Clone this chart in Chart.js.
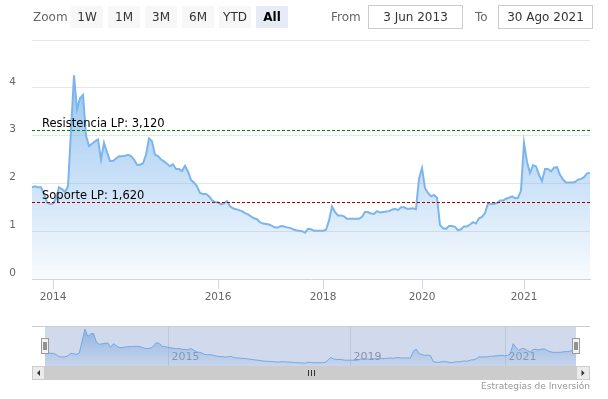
<!DOCTYPE html>
<html>
<head>
<meta charset="utf-8">
<script src="https://cdn.jsdelivr.net/npm/chart.js@4/dist/chart.umd.min.js"></script>
<style>
  html, body { margin:0; padding:0; background:#fff; }
  #wrap { position:relative; width:608px; height:399px; overflow:hidden; font-family:"DejaVu Sans", sans-serif; }
  #main { position:absolute; left:0; top:0; }
  #nav { position:absolute; left:0; top:310px; }
  .lbl { position:absolute; top:9px; font-size:12px; color:#666; line-height:16px; }
  .btn { position:absolute; top:6px; width:32px; height:22px; line-height:22px; text-align:center; background:#f7f7f7; color:#333; font-size:12px; }
  .btn.sel { background:#e6ebf5; color:#000; font-weight:bold; }
  .inp { position:absolute; top:5px; height:22px; line-height:22px; border:1px solid #ccc; text-align:center; font-size:12px; color:#333; box-sizing:content-box; }
  #credit { position:absolute; right:18px; top:381px; font-size:9px; color:#999; }
</style>
</head>
<body>
<div id="wrap">
  <canvas id="main" width="608" height="310"></canvas>
  <canvas id="nav" width="608" height="89"></canvas>
  <div class="lbl" style="left:33px">Zoom</div>
  <div class="btn" style="left:71px">1W</div>
  <div class="btn" style="left:108px">1M</div>
  <div class="btn" style="left:145px">3M</div>
  <div class="btn" style="left:182px">6M</div>
  <div class="btn" style="left:219px">YTD</div>
  <div class="btn sel" style="left:256px">All</div>
  <div class="lbl" style="left:331px">From</div>
  <div class="inp" style="left:368px;width:93px">3 Jun 2013</div>
  <div class="lbl" style="left:475px">To</div>
  <div class="inp" style="left:498px;width:93px">30 Ago 2021</div>
  <div id="credit">Estrategias de Inversión</div>
</div>
<script>
// ---- data (ordinal series, evenly spaced points) ----
const values = [
  1.92,1.94,1.92,1.92,1.78,1.60,1.57,1.58,1.68,1.92,
  1.88,1.82,1.94,3.10,4.26,3.55,3.78,3.85,3.00,2.78,
  2.83,2.88,2.92,2.50,2.85,2.65,2.47,2.47,2.52,2.57,
  2.57,2.58,2.60,2.57,2.50,2.39,2.39,2.42,2.60,2.94,
  2.88,2.60,2.57,2.50,2.46,2.41,2.36,2.40,2.30,2.30,
  2.26,2.37,2.25,2.07,2.02,1.94,1.80,1.78,1.78,1.73,
  1.65,1.61,1.60,1.56,1.58,1.63,1.52,1.48,1.46,1.44,
  1.42,1.38,1.35,1.31,1.27,1.25,1.19,1.16,1.15,1.14,
  1.11,1.08,1.08,1.11,1.10,1.08,1.07,1.04,1.02,1.01,
  1.00,0.97,1.05,1.04,1.01,1.01,1.01,1.01,1.03,1.22,
  1.52,1.40,1.33,1.33,1.31,1.26,1.26,1.26,1.26,1.26,
  1.30,1.40,1.40,1.37,1.36,1.42,1.39,1.40,1.41,1.42,
  1.45,1.47,1.44,1.50,1.50,1.47,1.47,1.48,1.46,2.10,
  2.32,1.90,1.80,1.73,1.76,1.70,1.13,1.06,1.05,1.11,
  1.11,1.09,1.02,1.04,1.10,1.10,1.14,1.19,1.16,1.27,
  1.30,1.38,1.58,1.57,1.57,1.59,1.64,1.64,1.68,1.70,
  1.73,1.69,1.70,1.85,2.85,2.45,2.22,2.38,2.36,2.18,
  2.05,2.30,2.30,2.25,2.33,2.34,2.18,2.08,2.02,2.02,
  2.02,2.03,2.08,2.09,2.13,2.21,2.22
];
const tickIndex  = [7, 62, 97, 130, 164];
const tickLabels = ['2014','2016','2018','2020','2021'];
const navTickIndex  = [43, 107, 161];
const navTickLabels = ['2015','2019','2021'];
const yTicks = [0, 1, 2, 3, 4, 5];
const resistance = 3.12;
const support = 1.62;

const categories = values.map((v, i) => {
  const k = tickIndex.indexOf(i);
  return k >= 0 ? tickLabels[k] : '';
});
const plotLines = [
  { value: resistance, color: '#008000', text: 'Resistencia LP: ' + resistance.toFixed(3).replace('.', ',') },
  { value: support,    color: '#a00000', text: 'Soporte LP: ' + support.toFixed(3).replace('.', ',') }
];

const FONT = '"DejaVu Sans", sans-serif';

function areaGradient(ctx, a0, a1) {
  const chart = ctx.chart;
  const area = chart.chartArea;
  if (!area) return 'rgba(124,181,236,0.4)';
  const g = chart.ctx.createLinearGradient(0, area.top, 0, area.bottom);
  g.addColorStop(0, 'rgba(124,181,236,' + a0 + ')');
  g.addColorStop(1, 'rgba(124,181,236,' + a1 + ')');
  return g;
}

const plotLinesPlugin = {
  id: 'plotLines',
  afterDatasetsDraw(chart) {
    const { ctx, chartArea: a, scales: { y } } = chart;
    plotLines.forEach(pl => {
      const py = Math.round(y.getPixelForValue(pl.value)) + 0.5;
      ctx.save();
      ctx.strokeStyle = pl.color;
      ctx.lineWidth = 1;
      ctx.setLineDash([3, 2]);
      ctx.beginPath();
      ctx.moveTo(a.left, py);
      ctx.lineTo(a.right, py);
      ctx.stroke();
      ctx.setLineDash([]);
      ctx.fillStyle = '#000';
      ctx.font = '11.5px ' + FONT;
      ctx.textBaseline = 'alphabetic';
      ctx.textAlign = 'left';
      ctx.fillText(pl.text, a.left + 10, py - 4);
      ctx.restore();
    });
  }
};

new Chart(document.getElementById('main'), {
  type: 'line',
  data: {
    labels: categories,
    datasets: [{
      data: values,
      borderColor: '#7cb5ec',
      borderWidth: 2,
      pointRadius: 0,
      tension: 0,
      fill: 'origin',
      backgroundColor: ctx => areaGradient(ctx, 0.9, 0.05)
    }]
  },
  options: {
    responsive: false,
    animation: false,
    events: [],
    layout: { padding: { top: 40, right: 18, left: 0, bottom: 0 } },
    plugins: { legend: { display: false }, tooltip: { enabled: false } },
    scales: {
      x: {
        type: 'category',
        offset: false,
        afterFit: s => { s.height = 31; },
        border: { color: '#ccd6eb', width: 1 },
        grid: {
          drawOnChartArea: false,
          drawTicks: true,
          tickLength: 10,
          color: c => (c.tick && c.tick.label) ? '#ccd6eb' : 'rgba(0,0,0,0)'
        },
        ticks: {
          autoSkip: false,
          maxRotation: 0,
          padding: 2,
          color: '#666',
          font: { family: FONT, size: 10.5 },
          callback: (v, i) => categories[i]
        }
      },
      y: {
        min: 0,
        max: 5,
        afterFit: s => { s.width = 32; },
        afterBuildTicks: s => { s.ticks = yTicks.map(v => ({ value: v })); },
        border: { display: false },
        grid: {
          drawTicks: false,
          color: c => (c.tick && c.tick.value === 0) ? 'rgba(0,0,0,0)' : '#e6e6e6'
        },
        ticks: {
          padding: 16,
          labelOffset: -6,
          color: '#666',
          font: { family: FONT, size: 10.5 },
          callback: v => (v === 5 ? '' : String(v))
        }
      }
    }
  },
  plugins: [plotLinesPlugin]
});

// ---- navigator ----
const navPlugin = {
  id: 'navigatorDecor',
  beforeDatasetsDraw(chart) {
    const { ctx, chartArea: a, scales: { x } } = chart;
    ctx.save();
    ctx.strokeStyle = '#e6e6e6';
    ctx.lineWidth = 1;
    ctx.font = '11px ' + FONT;
    ctx.fillStyle = '#999';
    ctx.textBaseline = 'middle';
    ctx.textAlign = 'left';
    navTickIndex.forEach((idx, k) => {
      const px = Math.round(x.getPixelForValue(idx)) + 0.5;
      ctx.beginPath();
      ctx.moveTo(px, a.top);
      ctx.lineTo(px, a.bottom);
      ctx.stroke();
      ctx.fillText(navTickLabels[k], px + 3, a.bottom - 9);
    });
    ctx.restore();
  },
  afterDatasetsDraw(chart) {
    const { ctx, chartArea: a } = chart;
    const outerL = 32, outerR = 590;
    ctx.save();
    // mask over selected range
    ctx.fillStyle = 'rgba(102,133,194,0.3)';
    ctx.fillRect(a.left, a.top, a.right - a.left, a.bottom - a.top);
    // outline
    ctx.strokeStyle = '#cccccc';
    ctx.lineWidth = 1;
    ctx.beginPath();
    ctx.moveTo(outerL, a.top + 0.5);
    ctx.lineTo(outerR, a.top + 0.5);
    ctx.stroke();
    // handles
    const midY = Math.round((a.top + a.bottom) / 2);
    [a.left, a.right].forEach(hx => {
      const x0 = Math.round(hx) - 3.5;
      ctx.fillStyle = '#f2f2f2';
      ctx.strokeStyle = '#999999';
      ctx.fillRect(x0, midY - 8, 7, 15);
      ctx.strokeRect(x0, midY - 8 + 0.5, 7, 15);
      ctx.strokeStyle = '#333333';
      ctx.beginPath();
      ctx.moveTo(x0 + 2.5, midY - 4); ctx.lineTo(x0 + 2.5, midY + 4);
      ctx.moveTo(x0 + 4.5, midY - 4); ctx.lineTo(x0 + 4.5, midY + 4);
      ctx.stroke();
    });
    // scrollbar
    const sTop = a.bottom, sH = 14;
    ctx.fillStyle = '#f2f2f2';
    ctx.fillRect(outerL, sTop, outerR - outerL, sH);
    ctx.fillStyle = '#cccccc';
    ctx.fillRect(a.left, sTop, a.right - a.left, sH);
    // buttons
    ctx.fillStyle = '#ebebeb';
    ctx.strokeStyle = '#cccccc';
    ctx.fillRect(outerL, sTop, a.left - outerL, sH);
    ctx.strokeRect(outerL + 0.5, sTop + 0.5, a.left - outerL - 1, sH - 1);
    ctx.fillRect(a.right, sTop, outerR - a.right, sH);
    ctx.strokeRect(a.right + 0.5, sTop + 0.5, outerR - a.right - 1, sH - 1);
    // arrows
    ctx.fillStyle = '#333333';
    const cy = sTop + sH / 2;
    const lx = (outerL + a.left) / 2, rx = (a.right + outerR) / 2;
    ctx.beginPath();
    ctx.moveTo(lx - 1.5, cy); ctx.lineTo(lx + 1.5, cy - 3); ctx.lineTo(lx + 1.5, cy + 3); ctx.closePath(); ctx.fill();
    ctx.beginPath();
    ctx.moveTo(rx + 1.5, cy); ctx.lineTo(rx - 1.5, cy - 3); ctx.lineTo(rx - 1.5, cy + 3); ctx.closePath(); ctx.fill();
    // grip
    const gx = Math.round((a.left + a.right) / 2);
    ctx.strokeStyle = '#333333';
    ctx.beginPath();
    [-3, 0, 3].forEach(d => { ctx.moveTo(gx + d + 0.5, cy - 3); ctx.lineTo(gx + d + 0.5, cy + 3); });
    ctx.stroke();
    ctx.restore();
  }
};

new Chart(document.getElementById('nav'), {
  type: 'line',
  data: {
    labels: categories,
    datasets: [{
      data: values,
      borderColor: '#7cb5ec',
      borderWidth: 1,
      pointRadius: 0,
      tension: 0,
      fill: 'origin',
      backgroundColor: ctx => areaGradient(ctx, 0.75, 0.1)
    }]
  },
  options: {
    responsive: false,
    animation: false,
    events: [],
    layout: { padding: { left: 45, right: 32, top: 16, bottom: 33 } },
    plugins: { legend: { display: false }, tooltip: { enabled: false } },
    scales: {
      x: { type: 'category', display: false, offset: false },
      y: { display: false, min: 0.7, max: 4.55 }
    }
  },
  plugins: [navPlugin]
});
</script>
</body>
</html>
